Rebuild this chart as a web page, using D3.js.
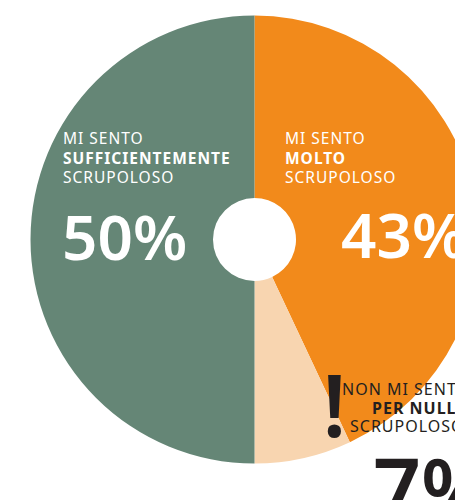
<!DOCTYPE html>
<html>
<head>
<meta charset="utf-8">
<script src="https://cdn.jsdelivr.net/npm/d3@7"></script>
<style>
  html, body { margin: 0; padding: 0; background: #fff; overflow: hidden; }
  svg { display: block; }
  text { font-family: "Noto Sans", "Open Sans", sans-serif; }
</style>
</head>
<body>
<svg id="chart" width="455" height="500"></svg>
<script>
// Survey answers, clockwise from 12 o'clock
const categories = ["molto", "per nulla", "sufficientemente"];
const values = [43, 7, 50];
const colors = ["#F28A1B", "#F8D5B0", "#658676"];
const labelLines = [
  ["MI SENTO", "MOLTO", "SCRUPOLOSO"],
  ["NON MI SENTO", "PER NULLA", "SCRUPOLOSO"],
  ["MI SENTO", "SUFFICIENTEMENTE", "SCRUPOLOSO"]
];

const svg = d3.select("#chart");
const cx = 254.5, cy = 239.5, outerR = 224, innerR = 41.5;

const pie = d3.pie().sort(null).value(d => d.value);
const arc = d3.arc().innerRadius(innerR).outerRadius(outerR);
const data = categories.map((c, i) => ({ key: c, value: values[i], color: colors[i], lines: labelLines[i] }));
const arcs = pie(data);

const g = svg.append("g").attr("transform", `translate(${cx},${cy})`);
g.selectAll("path.slice")
  .data(arcs)
  .join("path")
  .attr("class", "slice")
  .attr("d", arc)
  .attr("fill", d => d.data.color);

// Label block placement per slice
const layout = {
  "molto":            { xs: [285, 285, 285], y: 144, gap: 19.5, fill: "#fff", px: 341, py: 258, ps: 62, fs: 15.5 },
  "sufficientemente": { xs: [63, 63, 63],    y: 144, gap: 19.5, fill: "#fff", px: 62,  py: 260, ps: 62, fs: 15.5 },
  "per nulla":        { xs: [342, 372, 350], y: 395, gap: 18.5, fill: "#231F20", px: 373, py: 520, ps: 84, fs: 16 }
};

arcs.forEach(a => {
  const L = layout[a.data.key];
  const t = svg.append("text")
    .attr("fill", L.fill)
    .attr("font-size", L.fs)
    .attr("letter-spacing", 1);
  a.data.lines.forEach((line, i) => {
    t.append("tspan")
      .attr("x", L.xs[i])
      .attr("y", L.y + i * L.gap)
      .attr("font-weight", i === 1 ? 700 : 400)
      .text(line);
  });
  svg.append("text")
    .attr("x", L.px).attr("y", L.py)
    .attr("fill", L.fill)
    .attr("font-size", L.ps)
    .attr("font-weight", 600)
    .text(a.data.value + "%");
});

// Exclamation mark beside the smallest slice label
svg.append("text")
  .attr("x", 334.5).attr("y", 437)
  .attr("text-anchor", "middle")
  .attr("fill", "#231F20")
  .attr("font-size", 86)
  .attr("font-weight", 600)
  .text("!");
</script>
</body>
</html>
